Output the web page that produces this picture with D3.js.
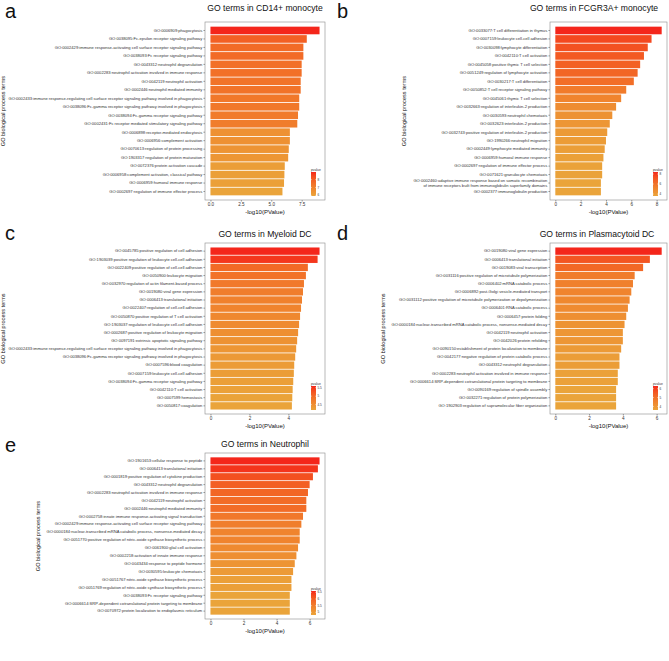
<!DOCTYPE html>
<html><head><meta charset="utf-8">
<script src="https://cdn.jsdelivr.net/npm/d3@7"></script>
<style>body{margin:0;background:#fff}text{font-family:"Liberation Sans",Arial,sans-serif}</style>
</head><body><svg id="chart" width="669" height="661"></svg>
<script>
// ---------- DATA ----------
const termsA = [
"GO:0006909:phagocytosis",
"GO:0038095:Fc-epsilon receptor signaling pathway",
"GO:0002429:immune response-activating cell surface receptor signaling pathway",
"GO:0038093:Fc receptor signaling pathway",
"GO:0043312:neutrophil degranulation",
"GO:0002283:neutrophil activation involved in immune response",
"GO:0042119:neutrophil activation",
"GO:0002446:neutrophil mediated immunity",
"GO:0002433:immune response-regulating cell surface receptor signaling pathway involved in phagocytosis",
"GO:0038096:Fc-gamma receptor signaling pathway involved in phagocytosis",
"GO:0038094:Fc-gamma receptor signaling pathway",
"GO:0002431:Fc receptor mediated stimulatory signaling pathway",
"GO:0006898:receptor-mediated endocytosis",
"GO:0006956:complement activation",
"GO:0070613:regulation of protein processing",
"GO:1903317:regulation of protein maturation",
"GO:0072376:protein activation cascade",
"GO:0006958:complement activation, classical pathway",
"GO:0006959:humoral immune response",
"GO:0002697:regulation of immune effector process"];
const valuesA = [8.97,7.92,7.64,7.64,7.5,7.5,7.42,7.42,7.3,7.3,7.2,7.14,6.53,6.53,6.44,6.39,6.11,6.08,6.05,5.92];
const ticksA = [0,2.5,5,7.5];

const termsB = [
"GO:0033077:T cell differentiation in thymus",
"GO:0007159:leukocyte cell-cell adhesion",
"GO:0030098:lymphocyte differentiation",
"GO:0042110:T cell activation",
"GO:0045058:positive thymic T cell selection",
"GO:0051249:regulation of lymphocyte activation",
"GO:0030217:T cell differentiation",
"GO:0050852:T cell receptor signaling pathway",
"GO:0045061:thymic T cell selection",
"GO:0032663:regulation of interleukin-2 production",
"GO:0030593:neutrophil chemotaxis",
"GO:0032623:interleukin-2 production",
"GO:0032743:positive regulation of interleukin-2 production",
"GO:1990266:neutrophil migration",
"GO:0002449:lymphocyte mediated immunity",
"GO:0006959:humoral immune response",
"GO:0002697:regulation of immune effector process",
"GO:0071621:granulocyte chemotaxis",
"GO:0002460:adaptive immune response based on somatic recombination\nof immune receptors built from immunoglobulin superfamily domains",
"GO:0002377:immunoglobulin production"];
const valuesB = [8.4,7.6,7.3,7.0,6.7,6.5,6.2,5.6,5.2,4.8,4.5,4.3,4.1,4.0,3.9,3.8,3.7,3.7,3.6,3.6];
const ticksB = [0,2,4,6,8];

const termsC = [
"GO:0045785:positive regulation of cell adhesion",
"GO:1903039:positive regulation of leukocyte cell-cell adhesion",
"GO:0022409:positive regulation of cell-cell adhesion",
"GO:0050900:leukocyte migration",
"GO:0032970:regulation of actin filament-based process",
"GO:0019080:viral gene expression",
"GO:0006413:translational initiation",
"GO:0022407:regulation of cell-cell adhesion",
"GO:0050870:positive regulation of T cell activation",
"GO:1903037:regulation of leukocyte cell-cell adhesion",
"GO:0002687:positive regulation of leukocyte migration",
"GO:0097191:extrinsic apoptotic signaling pathway",
"GO:0002433:immune response-regulating cell surface receptor signaling pathway involved in phagocytosis",
"GO:0038096:Fc-gamma receptor signaling pathway involved in phagocytosis",
"GO:0007596:blood coagulation",
"GO:0007159:leukocyte cell-cell adhesion",
"GO:0038094:Fc-gamma receptor signaling pathway",
"GO:0042110:T cell activation",
"GO:0007599:hemostasis",
"GO:0050817:coagulation"];
const valuesC = [5.6,5.5,5.0,4.9,4.8,4.75,4.7,4.65,4.6,4.55,4.5,4.45,4.4,4.35,4.3,4.28,4.25,4.22,4.2,4.18];
const ticksC = [0,2,4];

const termsD = [
"GO:0019080:viral gene expression",
"GO:0006413:translational initiation",
"GO:0019083:viral transcription",
"GO:0031116:positive regulation of microtubule polymerization",
"GO:0006402:mRNA catabolic process",
"GO:0006892:post-Golgi vesicle-mediated transport",
"GO:0031112:positive regulation of microtubule polymerization or depolymerization",
"GO:0006401:RNA catabolic process",
"GO:0006457:protein folding",
"GO:0000184:nuclear-transcribed mRNA catabolic process, nonsense-mediated decay",
"GO:0042119:neutrophil activation",
"GO:0042026:protein refolding",
"GO:0090150:establishment of protein localization to membrane",
"GO:0042177:negative regulation of protein catabolic process",
"GO:0043312:neutrophil degranulation",
"GO:0002283:neutrophil activation involved in immune response",
"GO:0006614:SRP-dependent cotranslational protein targeting to membrane",
"GO:0090169:regulation of spindle assembly",
"GO:0032271:regulation of protein polymerization",
"GO:1902903:regulation of supramolecular fiber organization"];
const valuesD = [6.3,5.6,5.2,4.7,4.6,4.5,4.4,4.3,4.2,4.1,4.0,4.0,3.9,3.8,3.8,3.7,3.7,3.6,3.6,3.6];
const ticksD = [0,2,4,6];

const termsE = [
"GO:1901653:cellular response to peptide",
"GO:0006413:translational initiation",
"GO:0001819:positive regulation of cytokine production",
"GO:0043312:neutrophil degranulation",
"GO:0002283:neutrophil activation involved in immune response",
"GO:0042119:neutrophil activation",
"GO:0002446:neutrophil mediated immunity",
"GO:0002758:innate immune response-activating signal transduction",
"GO:0002429:immune response-activating cell surface receptor signaling pathway",
"GO:0000184:nuclear-transcribed mRNA catabolic process, nonsense-mediated decay",
"GO:0051770:positive regulation of nitric-oxide synthase biosynthetic process",
"GO:0061900:glial cell activation",
"GO:0002218:activation of innate immune response",
"GO:0043434:response to peptide hormone",
"GO:0030595:leukocyte chemotaxis",
"GO:0051767:nitric-oxide synthase biosynthetic process",
"GO:0051769:regulation of nitric-oxide synthase biosynthetic process",
"GO:0038093:Fc receptor signaling pathway",
"GO:0006614:SRP-dependent cotranslational protein targeting to membrane",
"GO:0070972:protein localization to endoplasmic reticulum"];
const valuesE = [6.6,6.5,6.2,6.0,5.9,5.8,5.8,5.6,5.5,5.4,5.4,5.3,5.2,5.1,5.0,4.9,4.9,4.8,4.8,4.8];
const ticksE = [0,2,4,6];

const titles = ["GO terms in CD14+ monocyte","GO terms in FCGR3A+ monocyte","GO terms in Myeloid DC","GO terms in Plasmacytoid DC","GO terms in Neutrophil"];
const letters = ["a","b","c","d","e"];

// ---------- LAYOUT ----------
const layout = [
  {x0:205,x1:325,y0:22,y1:200, lx:5, ly:18, tx:265, ty:11},
  {x0:550,x1:667,y0:22,y1:200, lx:337, ly:18, tx:594, ty:11},
  {x0:205,x1:325,y0:243,y1:414, lx:5, ly:240, tx:265, ty:237},
  {x0:550,x1:667,y0:243,y1:414, lx:337, ly:240, tx:597, ty:237},
  {x0:205,x1:325,y0:453,y1:619, lx:5, ly:452, tx:265, ty:447}
];
const data = [
  [termsA,valuesA,ticksA],[termsB,valuesB,ticksB],[termsC,valuesC,ticksC],[termsD,valuesD,ticksD],[termsE,valuesE,ticksE]
];
const lowCol = "#EAA43A", highCol = "#F4261B";
const svg = d3.select("#chart");

data.forEach(([terms, values, ticks], i) => {
  const L = layout[i];
  const max = d3.max(values), min = d3.min(values);
  const x = d3.scaleLinear().domain([-0.05*max, 1.05*max]).range([L.x0, L.x1]);
  const y = d3.scaleBand().domain(terms).range([L.y0, L.y1]).paddingInner(0.1).paddingOuter(0.55);
  const col = d3.scaleLinear().domain([min, max]).range([lowCol, highCol]).interpolate(d3.interpolateLab);
  const g = svg.append("g");

  g.append("text").attr("x", L.lx).attr("y", L.ly).attr("font-size", 20).attr("fill","#111").text(letters[i]);
  g.append("text").attr("x", L.tx).attr("y", L.ty).attr("text-anchor","middle")
    .attr("font-size", 8.6).attr("fill","#111").text(titles[i]);

  g.selectAll("rect.bar").data(terms).join("rect")
    .attr("x", x(0)).attr("y", d => y(d))
    .attr("width", (d,k) => x(values[k]) - x(0)).attr("height", y.bandwidth())
    .attr("fill", (d,k) => col(values[k]));

  g.append("rect").attr("x", L.x0).attr("y", L.y0).attr("width", L.x1-L.x0).attr("height", L.y1-L.y0)
    .attr("fill","none").attr("stroke","#8a8a8a").attr("stroke-width",0.6);

  const ya = g.append("g").attr("transform", `translate(${L.x0},0)`)
    .call(d3.axisLeft(y).tickSize(1.6).tickPadding(1.2));
  ya.select(".domain").remove();
  ya.selectAll(".tick line").attr("stroke","#444").attr("stroke-width",0.5);
  ya.selectAll(".tick text").attr("font-size",4.1).attr("fill","#333").attr("font-family","Liberation Sans, Arial, sans-serif")
    .each(function(d){
      const parts = d.split("\n");
      if (parts.length > 1) {
        const t = d3.select(this); t.text(null);
        parts.forEach((p,j) => t.append("tspan").attr("x", -2.8).attr("dy", j===0 ? "-0.15em" : "1.1em").text(p));
      }
    });

  const xa = g.append("g").attr("transform", `translate(0,${L.y1})`)
    .call(d3.axisBottom(x).tickValues(ticks).tickSize(1.6).tickPadding(1.2)
      .tickFormat(ticks.some(t => t % 1) ? d3.format(".1f") : d3.format("d")));
  xa.select(".domain").remove();
  xa.selectAll(".tick line").attr("stroke","#444").attr("stroke-width",0.5);
  xa.selectAll(".tick text").attr("font-size",4.6).attr("fill","#333").attr("font-family","Liberation Sans, Arial, sans-serif");

  g.append("text").attr("x",(L.x0+L.x1)/2).attr("y", L.y1+13.5).attr("text-anchor","middle")
    .attr("font-size",6).attr("fill","#111").text("-log10(PValue)");

  let minLeft = L.x0;
  ya.selectAll(".tick text").each(function(){ const b = this.getBBox(); minLeft = Math.min(minLeft, L.x0 + b.x); });
  const ytx = Math.max(5, minLeft - 7);
  g.append("text").attr("transform", `translate(${ytx},${(L.y0+L.y1)/2}) rotate(-90)`)
    .attr("text-anchor","middle").attr("font-size",5.6).attr("fill","#111").text("GO biological process terms");

  const lgH = 24, lgW = 5;
  const lx = L.x1 - 14, ly = L.y1 - lgH - 4;
  const gid = "grad"+i;
  const grad = svg.append("defs").append("linearGradient").attr("id",gid).attr("x1",0).attr("x2",0).attr("y1",1).attr("y2",0);
  d3.range(0,1.001,0.1).forEach(t => grad.append("stop").attr("offset",t).attr("stop-color",col(min + t*(max-min))));
  const lg = g.append("g");
  lg.append("rect").attr("x", lx-3).attr("y", ly-6).attr("width", 16).attr("height", lgH+8).attr("fill","#fff");
  lg.append("text").attr("x", lx).attr("y", ly-1.5).attr("font-size",3.3).attr("fill","#333").text("pvalue");
  lg.append("rect").attr("x", lx).attr("y", ly).attr("width", lgW).attr("height", lgH).attr("fill",`url(#${gid})`);
  const ls = d3.scaleLinear().domain([min,max]).range([ly+lgH, ly]);
  const lt = ls.ticks(3).filter(t => t>=min && t<=max);
  lt.forEach(t => {
    lg.append("text").attr("x", lx+lgW+1.5).attr("y", ls(t)+1.1).attr("font-size",3.1).attr("fill","#333").text(t);
    lg.append("line").attr("x1",lx).attr("x2",lx+1).attr("y1",ls(t)).attr("y2",ls(t)).attr("stroke","#fff").attr("stroke-width",0.4);
    lg.append("line").attr("x1",lx+lgW-1).attr("x2",lx+lgW).attr("y1",ls(t)).attr("y2",ls(t)).attr("stroke","#fff").attr("stroke-width",0.4);
  });
});
</script></body></html>
